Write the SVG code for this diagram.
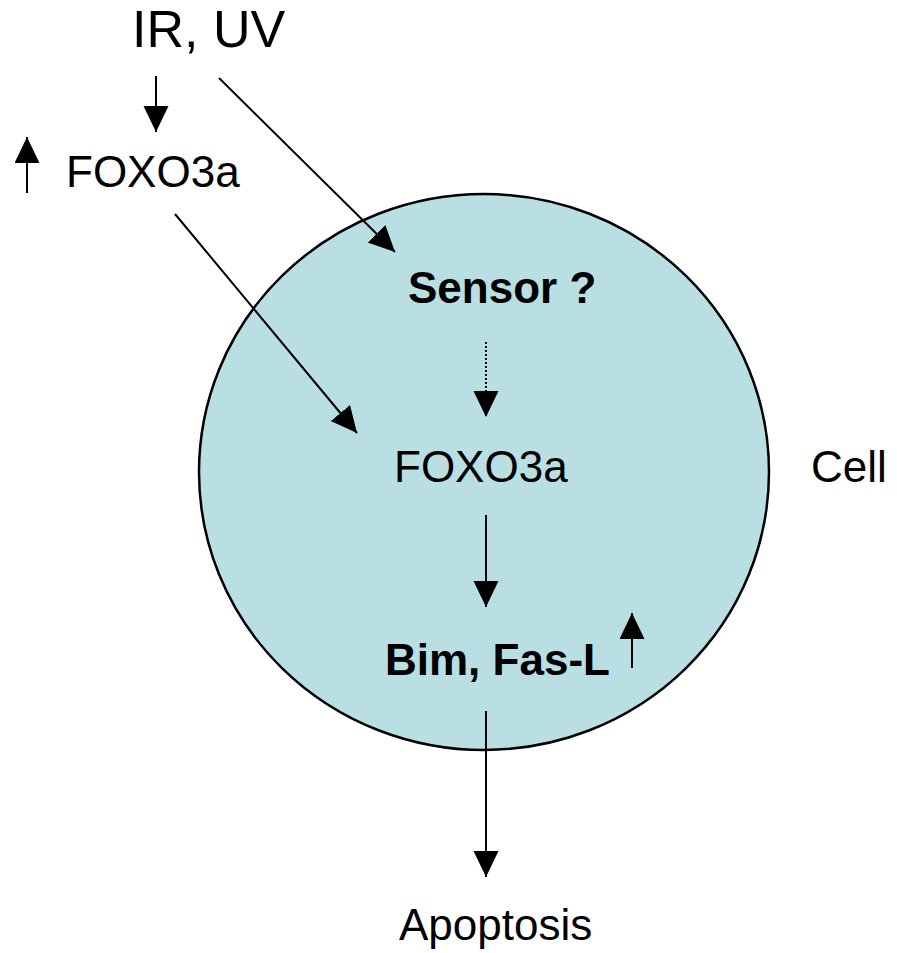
<svg xmlns="http://www.w3.org/2000/svg" width="897" height="953" viewBox="0 0 897 953">
  <style>
    .t { font-family: "Liberation Sans", Arial, sans-serif; font-size: 44px; fill: #000; }
    .b { font-weight: bold; }
    .c { stroke: #000; stroke-width: 2; fill: none; }
    .d { stroke-dasharray: 2 2; }
  </style>
  <defs>
    <marker id="ah" markerUnits="userSpaceOnUse" markerWidth="28" markerHeight="26" refX="26" refY="12.5" orient="auto">
      <path d="M0,0 L26,12.5 L0,25 Z" fill="#000"/>
    </marker>
  </defs>
  <rect width="897" height="953" fill="#fff"/>
  <g id="cell">
    <ellipse cx="484" cy="472" rx="285" ry="278" fill="#B9DFE3" stroke="#000" stroke-width="2.5"/>
    <text class="t" x="811" y="482">Cell</text>
  </g>
  <g id="irUV"><text class="t" x="132" y="47" style="font-size:52px">IR, UV</text></g>
  <g id="foxoOut"><text class="t" x="66" y="187">FOXO3a</text></g>
  <g id="sensor"><text class="t b" x="408" y="303">Sensor ?</text></g>
  <g id="foxoIn"><text class="t" x="394" y="482">FOXO3a</text></g>
  <g id="bim"><text class="t b" x="385" y="675">Bim, Fas-L</text></g>
  <g id="apoptosis"><text class="t" x="399" y="940">Apoptosis</text></g>
  <g id="connectors">
    <line class="c" x1="156" y1="76" x2="156" y2="132" marker-end="url(#ah)"/>
    <line class="c" x1="27" y1="193" x2="27" y2="137" marker-end="url(#ah)"/>
    <line class="c" x1="219" y1="78" x2="395" y2="252" marker-end="url(#ah)"/>
    <line class="c" x1="175" y1="214" x2="357" y2="433" marker-end="url(#ah)"/>
    <line class="c d" x1="486" y1="342" x2="486" y2="417" marker-end="url(#ah)"/>
    <line class="c" x1="486" y1="515" x2="486" y2="607" marker-end="url(#ah)"/>
    <line class="c" x1="632" y1="668" x2="632" y2="613" marker-end="url(#ah)"/>
    <line class="c" x1="486" y1="711" x2="486" y2="877" marker-end="url(#ah)"/>
  </g>
</svg>
